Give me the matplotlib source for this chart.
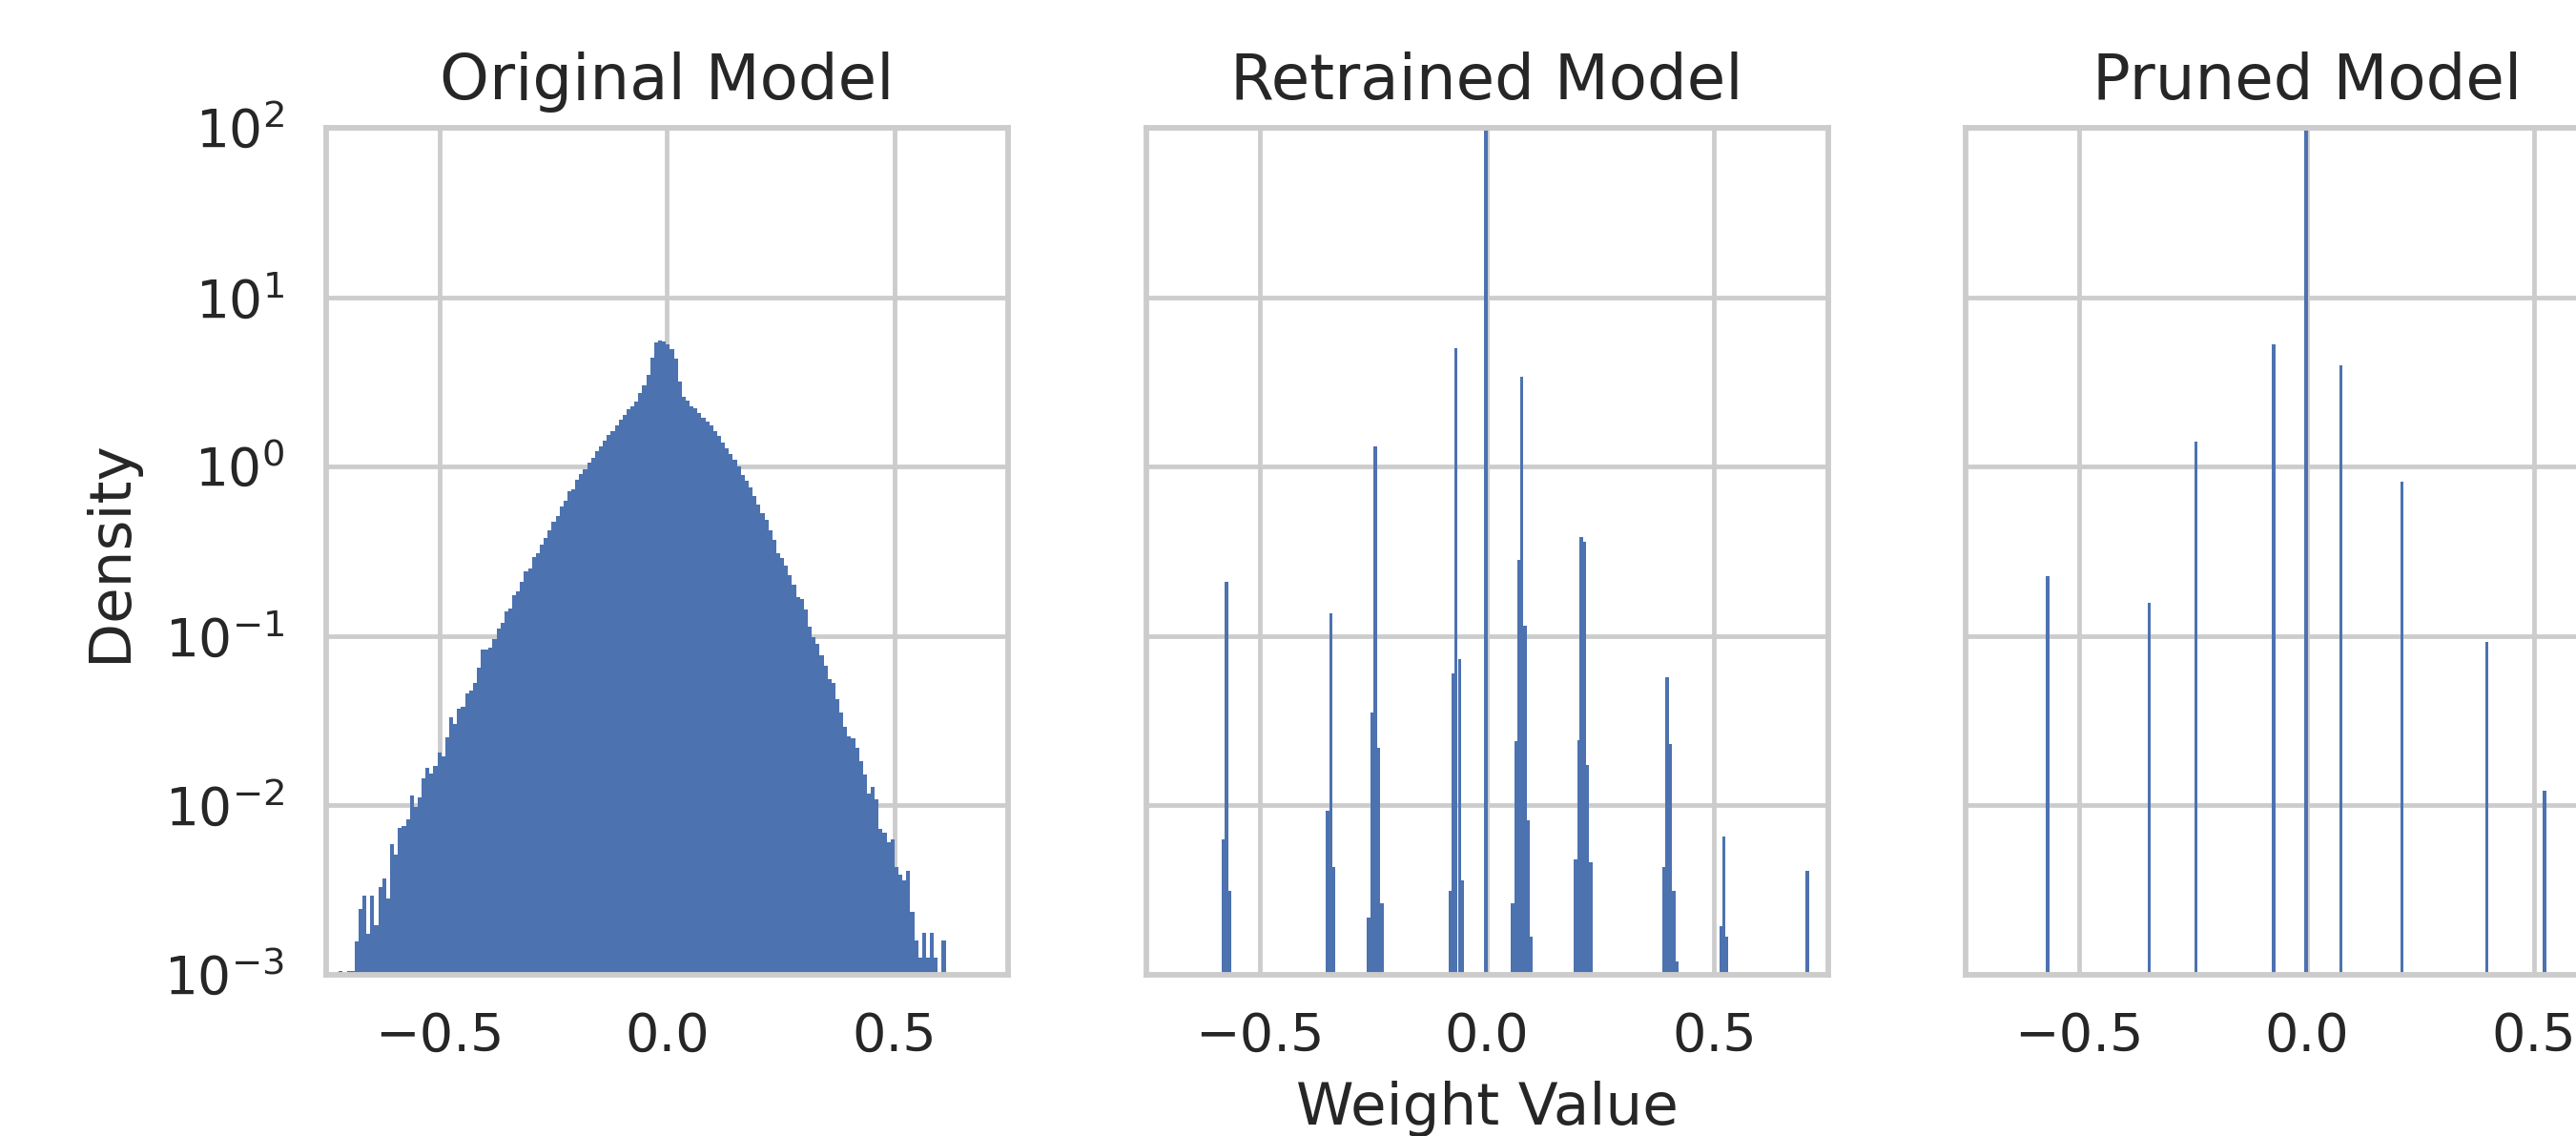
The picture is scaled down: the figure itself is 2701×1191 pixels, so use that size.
import matplotlib
matplotlib.use("Agg")
import matplotlib.pyplot as plt
import numpy as np
import seaborn as sns

# Original model: 154 equal-width bins spanning the weight range
orig_range = (-0.722, 0.613)
orig_density = [
    0.00105, 0, 0.00105, 0.00105, 0.00158, 0.00245, 0.00295, 0.00174, 0.00295, 0.00195,
    0.00331, 0.00372, 0.00282, 0.00589, 0.00513, 0.00741, 0.00759, 0.00832, 0.0115, 0.00977,
    0.0112, 0.0145, 0.0166, 0.0155, 0.0170, 0.0204, 0.0195, 0.0251, 0.0331, 0.0302,
    0.0372, 0.0380, 0.0457, 0.0479, 0.0525, 0.0646, 0.0832, 0.0832, 0.0851, 0.0955,
    0.110, 0.120, 0.140, 0.145, 0.174, 0.184, 0.208, 0.241, 0.250, 0.292,
    0.308, 0.345, 0.379, 0.419, 0.472, 0.511, 0.578, 0.625, 0.713, 0.731,
    0.834, 0.902, 0.964, 1.05, 1.12, 1.23, 1.32, 1.43, 1.53, 1.62,
    1.75, 1.89, 2.01, 2.17, 2.26, 2.41, 2.72, 3.02, 3.46, 4.39,
    5.41, 5.57, 5.47, 5.26, 4.94, 4.34, 3.19, 2.58, 2.45, 2.28,
    2.20, 2.07, 1.95, 1.85, 1.74, 1.62, 1.52, 1.39, 1.29, 1.18,
    1.10, 1.00, 0.897, 0.830, 0.757, 0.668, 0.600, 0.528, 0.483, 0.419,
    0.370, 0.310, 0.290, 0.260, 0.228, 0.202, 0.169, 0.165, 0.143, 0.114,
    0.0986, 0.0899, 0.0773, 0.0668, 0.0553, 0.0530, 0.0426, 0.0354, 0.0292, 0.0256,
    0.0249, 0.0220, 0.0183, 0.0153, 0.0117, 0.0128, 0.0108, 0.00729, 0.00687, 0.00610,
    0.00627, 0.00430, 0.00392, 0.00359, 0.00413, 0.00234, 0.00160, 0.00126, 0.00178, 0.00126,
    0.00178, 0.00126, 0, 0.00160,
]

# Retrained model: left edge of each non-empty bin and its density
retr_left = [
    -0.584, -0.577, -0.570,
    -0.354, -0.347, -0.340,
    -0.264, -0.256, -0.249, -0.242, -0.235,
    -0.085, -0.078, -0.072, -0.064, -0.057,
    -0.006,
    0.053, 0.060, 0.066, 0.073, 0.080, 0.087, 0.094,
    0.191, 0.198, 0.204, 0.211, 0.218, 0.225,
    0.385, 0.393, 0.400, 0.407, 0.414,
    0.511, 0.517, 0.524,
    0.701,
]
retr_density = [
    0.00630, 0.210, 0.00314,
    0.00933, 0.137, 0.00432,
    0.00218, 0.0354, 1.31, 0.0220, 0.00264,
    0.00314, 0.0603, 4.98, 0.0728, 0.00360,
    120,
    0.00264, 0.0241, 0.280, 3.41, 0.115, 0.00815, 0.00169,
    0.00480, 0.0244, 0.382, 0.362, 0.0173, 0.00461,
    0.00432, 0.0571, 0.0229, 0.00314, 0.00120,
    0.00193, 0.00655, 0.00169,
    0.00409,
]

# Pruned model: one bin per shared weight value
pruned_left = [-0.573, -0.350, -0.247, -0.076, -0.005, 0.072, 0.206, 0.393, 0.520]
pruned_density = [0.226, 0.156, 1.41, 5.25, 120, 3.94, 0.815, 0.0920, 0.0122]

bin_w = 0.0071
bar_color = "#4c72b0"

sns.set_theme(style="whitegrid")
plt.rcParams.update({
    "font.family": ["DejaVu Sans"],
    "text.color": ".15",
    "axes.labelcolor": ".15",
    "xtick.color": ".15",
    "ytick.color": ".15",
    "axes.edgecolor": "#cccccc",
    "grid.color": "#cccccc",
    "axes.linewidth": 1.4,
    "grid.linewidth": 1.15,
    "xtick.labelsize": 13.4,
    "ytick.labelsize": 13.2,
    "axes.labelsize": 14.7,
    "axes.titlesize": 15.8,
    "axes.titlepad": 7.2,
    "xtick.major.size": 0,
    "ytick.major.size": 0,
    "ytick.minor.size": 0,
    "xtick.major.pad": 9.0,
    "ytick.major.pad": 10.5,
})

fig = plt.figure(figsize=(2701 / 300, 1191 / 300), dpi=300)
bottom, height, width = 0.1419, 0.7456, 0.2647
ax1 = fig.add_axes([0.1266, bottom, width, height])
ax2 = fig.add_axes([0.4449, bottom, width, height], sharex=ax1, sharey=ax1)
ax3 = fig.add_axes([0.7631, bottom, width, height], sharex=ax1, sharey=ax1)

edges = np.linspace(orig_range[0], orig_range[1], len(orig_density) + 1)
ax1.stairs(orig_density, edges, fill=True, baseline=1e-4, color=bar_color, linewidth=0)
ax2.bar(retr_left, retr_density, width=bin_w, align="edge", color=bar_color, linewidth=0)
ax3.bar(pruned_left, pruned_density, width=bin_w, align="edge", color=bar_color, linewidth=0)

ax1.set_yscale("log")
ax1.set_ylim(1e-3, 1e2)
ax1.set_xlim(-0.75, 0.75)
ax1.set_xticks([-0.5, 0.0, 0.5])
ax1.minorticks_off()

for ax, title in zip([ax1, ax2, ax3], ["Original Model", "Retrained Model", "Pruned Model"]):
    ax.set_title(title)
    ax.grid(True, which="major")
    ax.set_axisbelow(True)
ax2.tick_params(labelleft=False)
ax3.tick_params(labelleft=False)

ax1.set_ylabel("Density", labelpad=6.5)
ax2.set_xlabel("Weight Value", labelpad=4.8)

fig.savefig("out.png", dpi=300)
